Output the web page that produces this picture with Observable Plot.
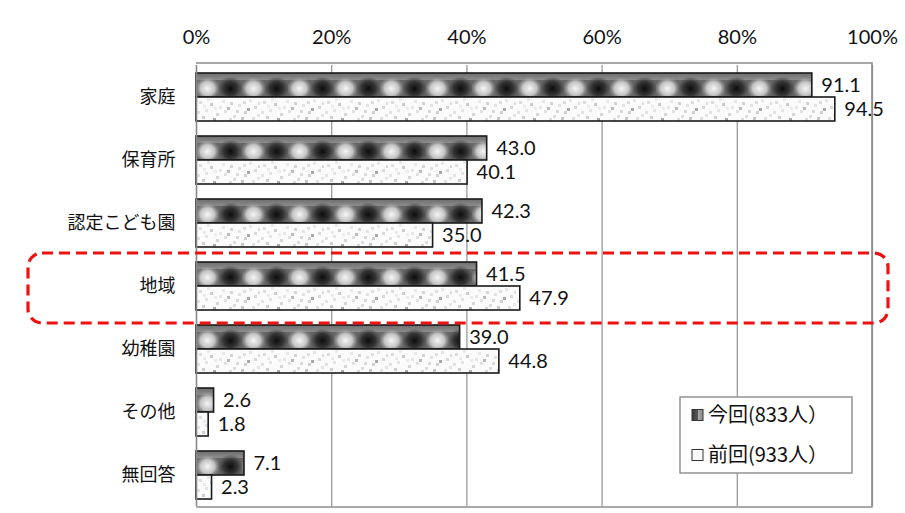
<!DOCTYPE html>
<html>
<head>
<meta charset="utf-8">
<script src="https://cdn.jsdelivr.net/npm/d3@7"></script>
<script src="https://cdn.jsdelivr.net/npm/@observablehq/plot@0.6"></script>
<style>
  html, body { margin: 0; padding: 0; background: #fff; }
  svg { display: block; }
</style>
</head>
<body>
<div id="chart"></div>
<script>
const categories = ["家庭", "保育所", "認定こども園", "地域", "幼稚園", "その他", "無回答"];
const seriesKeys = ["今回", "前回"];
const seriesLabels = ["今回(833人）", "前回(933人）"];
const current = [91.1, 43.0, 42.3, 41.5, 39.0, 2.6, 7.1];
const previous = [94.5, 40.1, 35.0, 47.9, 44.8, 1.8, 2.3];
const xTicks = [0, 20, 40, 60, 80, 100];
const highlight = "地域";

(function () {
const rowsCur = categories.map((c, i) => ({category: c, series: "今回", value: current[i]}));
const rowsPrev = categories.map((c, i) => ({category: c, series: "前回", value: previous[i]}));
const rows = rowsCur.concat(rowsPrev);

const numFont = "Lato, 'Open Sans', sans-serif";
const cjkFont = "'Noto Sans CJK JP', sans-serif";

const chart = Plot.plot({
  width: 905,
  height: 513,
  marginLeft: 196,
  marginRight: 33,
  marginTop: 63,
  marginBottom: 6,
  style: {fontFamily: cjkFont, fontSize: "18px", color: "#111", background: "#fff"},
  x: {domain: [0, 100], ticks: xTicks, tickFormat: d => d + "%", axis: "top", label: null, tickSize: 0, tickPadding: 22},
  fy: {domain: categories, padding: 0, label: null, axis: "left", tickSize: 0, tickPadding: 21},
  y: {domain: seriesKeys, axis: null, paddingInner: 0, paddingOuter: 0.27},
  marks: [
    Plot.ruleX(xTicks.filter(d => d > 0), {stroke: "#9a9a9a", strokeWidth: 1.3, strokeOpacity: 1}),
    Plot.barX(rowsCur, {x: "value", y: "series", fy: "category", fill: "url(#patCur)", stroke: "#1a1a1a", strokeWidth: 1.6, className: "bar-cur"}),
    Plot.barX(rowsPrev, {x: "value", y: "series", fy: "category", fill: "url(#patPrev)", stroke: "#1a1a1a", strokeWidth: 1.6, className: "bar-prev"}),
    Plot.ruleX([0], {stroke: "#888", strokeWidth: 1.6}),
    Plot.text(rows, {x: "value", y: "series", fy: "category", text: d => d.value.toFixed(1), dx: 9, textAnchor: "start", fontSize: 20, fontFamily: numFont, fill: "#111"})
  ]
});

document.getElementById("chart").appendChild(chart);

const svg = d3.select(chart);
svg.selectAll("g[aria-label='x-axis tick label']").style("font-family", numFont).style("font-size", "20px");

const xs = chart.scale("x");
const fys = chart.scale("fy");
const x0 = xs.apply(0), x1 = xs.apply(100);
const plotTop = 63, plotBottom = 513 - 6;

const curRect = chart.querySelector(".bar-cur rect");
const prevRect = chart.querySelector(".bar-prev rect");
const cy = +curRect.getAttribute("y"), ch = +curRect.getAttribute("height");
const py = +prevRect.getAttribute("y"), ph = +prevRect.getAttribute("height");

const defs = svg.insert("defs", ":first-child");
const rl = defs.append("radialGradient").attr("id", "gLight");
rl.append("stop").attr("offset", "0%").attr("stop-color", "#f6f6f6").attr("stop-opacity", 1);
rl.append("stop").attr("offset", "55%").attr("stop-color", "#cfcfcf").attr("stop-opacity", 0.9);
rl.append("stop").attr("offset", "100%").attr("stop-color", "#8a8a8a").attr("stop-opacity", 0);
const rd = defs.append("radialGradient").attr("id", "gDark");
rd.append("stop").attr("offset", "0%").attr("stop-color", "#0c0c0c").attr("stop-opacity", 1);
rd.append("stop").attr("offset", "55%").attr("stop-color", "#2e2e2e").attr("stop-opacity", 0.9);
rd.append("stop").attr("offset", "100%").attr("stop-color", "#4a4a4a").attr("stop-opacity", 0);
const tg = defs.append("linearGradient").attr("id", "gTop").attr("x1", 0).attr("y1", 0).attr("x2", 0).attr("y2", 1);
tg.append("stop").attr("offset", "0%").attr("stop-color", "#6e6e6e");
tg.append("stop").attr("offset", "100%").attr("stop-color", "#8c8c8c");

const pw = 46;
const topBand = Math.round(ch * 0.28);
const spotCy = topBand + (ch - topBand) / 2;
const pc = defs.append("pattern").attr("id", "patCur").attr("patternUnits", "userSpaceOnUse")
  .attr("x", x0).attr("y", cy).attr("width", pw).attr("height", ch);
pc.append("rect").attr("width", pw).attr("height", ch).attr("fill", "#666");
pc.append("rect").attr("width", pw).attr("height", topBand).attr("fill", "url(#gTop)");
pc.append("ellipse").attr("cx", 11.5).attr("cy", spotCy).attr("rx", 13).attr("ry", (ch - topBand) * 0.72).attr("fill", "url(#gLight)");
pc.append("ellipse").attr("cx", 34.5).attr("cy", spotCy).attr("rx", 13).attr("ry", (ch - topBand) * 0.72).attr("fill", "url(#gDark)");

const pp = defs.append("pattern").attr("id", "patPrev").attr("patternUnits", "userSpaceOnUse")
  .attr("x", x0).attr("y", py).attr("width", 64).attr("height", ph);
pp.append("rect").attr("width", 64).attr("height", ph).attr("fill", "#fbfbfb");
const specks = [[3,4,"#ddd"],[9,12,"#e4e4e4"],[14,6,"#ccc"],[20,16,"#d6d6d6"],[26,3,"#e8e8e8"],[31,10,"#bbb"],[37,18,"#ddd"],[42,7,"#e2e2e2"],[48,14,"#d0d0d0"],[53,2,"#e6e6e6"],[58,9,"#d8d8d8"],[6,19,"#cfcfcf"],[17,21,"#aaa"],[28,13,"#e0e0e0"],[45,20,"#c8c8c8"],[61,17,"#e4e4e4"],[11,1,"#e9e9e9"],[34,5,"#d3d3d3"],[51,11,"#aaa"],[23,9,"#e6e6e6"],[1,14,"#e2e2e2"],[40,13,"#dadada"],[56,20,"#e0e0e0"],[33,21,"#d9d9d9"],[18,10,"#ebebeb"],[47,4,"#dedede"],[7,8,"#eaeaea"],[62,5,"#dcdcdc"]];
specks.forEach(([sx, sy, c]) => {
  pp.append("rect").attr("x", sx).attr("y", sy * ph / 24).attr("width", 3).attr("height", 3).attr("fill", c);
});

svg.append("path")
  .attr("d", `M${x0},${plotTop}H${x1}V${plotBottom}H${x0}`)
  .attr("fill", "none").attr("stroke", "#8c8c8c").attr("stroke-width", 1.6);

const hy = fys.apply(highlight);
const bw = fys.bandwidth;
svg.append("rect")
  .attr("x", 28).attr("y", hy - 1).attr("width", 860).attr("height", bw + 7)
  .attr("rx", 14).attr("ry", 14)
  .attr("fill", "none").attr("stroke", "#ee1111").attr("stroke-width", 3.2)
  .attr("stroke-dasharray", "11,6");

const lgX = 680, lgY = 397, lgW = 172, lgH = 76;
const leg = svg.append("g").attr("text-anchor", "start");
leg.append("rect").attr("x", lgX).attr("y", lgY).attr("width", lgW).attr("height", lgH)
  .attr("fill", "#fff").attr("stroke", "#8c8c8c").attr("stroke-width", 1.4);
const mg = defs.append("linearGradient").attr("id", "gMark").attr("x1", 0).attr("y1", 0).attr("x2", 1).attr("y2", 0);
mg.append("stop").attr("offset", "0%").attr("stop-color", "#3a3a3a");
mg.append("stop").attr("offset", "50%").attr("stop-color", "#555");
mg.append("stop").attr("offset", "55%").attr("stop-color", "#aaa");
mg.append("stop").attr("offset", "100%").attr("stop-color", "#888");
seriesLabels.forEach((lab, i) => {
  const yy = lgY + 18 + i * 40;
  leg.append("rect").attr("x", lgX + 12).attr("y", yy - 5.5).attr("width", 11).attr("height", 11)
    .attr("fill", i === 0 ? "url(#gMark)" : "#fafafa").attr("stroke", "#333").attr("stroke-width", 1);
  leg.append("text").attr("x", lgX + 28).attr("y", yy).attr("dy", "0.36em").attr("text-anchor", "start")
    .attr("font-family", cjkFont).attr("font-size", 20).attr("fill", "#111").text(lab);
});
})();
</script>
</body>
</html>
